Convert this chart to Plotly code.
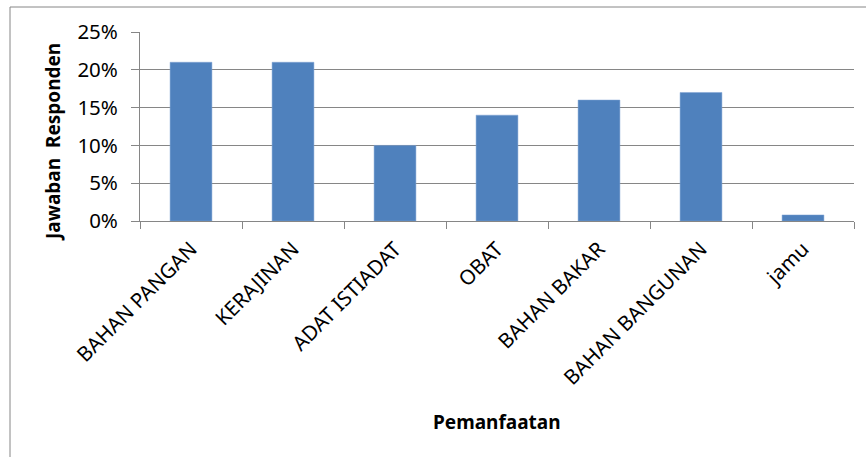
import plotly.graph_objects as go

categories = ["BAHAN PANGAN", "KERAJINAN", "ADAT ISTIADAT", "OBAT",
              "BAHAN BAKAR", "BAHAN BANGUNAN", "jamu"]
values = [0.21, 0.21, 0.10, 0.14, 0.16, 0.17, 0.008]
y_ticks = [0, 0.05, 0.10, 0.15, 0.20, 0.25]
y_labels = ["0%", "5%", "10%", "15%", "20%", "25%"]

FONT = "Noto Sans"
GRAY = "#868686"

fig = go.Figure(go.Bar(
    x=categories, y=values,
    marker=dict(color="#4F81BD", line=dict(color="#7EA3D3", width=0.5)),
))

W, H = 866, 457
L, R, T, B = 140, 12, 32, 236
pw, ph = W - L - R, H - T - B

def px(x):
    return (x - L) / pw

def py(y):
    return (H - B - y) / ph

fig.update_layout(
    width=W, height=H,
    margin=dict(l=L, r=R, t=T, b=B),
    paper_bgcolor="white", plot_bgcolor="white",
    bargap=0.59,
    showlegend=False,
    font=dict(family=FONT, size=19, color="#000000"),
    xaxis=dict(
        type="category",
        tickson="boundaries",
        ticks="outside", ticklen=7, tickcolor=GRAY,
        showline=True, linecolor=GRAY, linewidth=1,
        tickangle=-45,
        ticklabelstandoff=7,
        tickfont=dict(family=FONT, size=20.5),
        showgrid=False,
    ),
    yaxis=dict(
        range=[0, 0.25],
        tickvals=y_ticks, ticktext=y_labels,
        ticks="outside", ticklen=8, tickcolor=GRAY,
        showline=True, linecolor=GRAY, linewidth=1,
        showgrid=True, gridcolor=GRAY, gridwidth=1,
        ticklabelstandoff=9,
        tickfont=dict(family=FONT, size=20.5),
        zeroline=False,
    ),
    annotations=[
        dict(text="<b>Jawaban  Responden</b>", textangle=-90,
             x=px(53), y=py(142), xref="paper", yref="paper",
             showarrow=False, font=dict(family=FONT, size=19),
             xanchor="center", yanchor="middle"),
        dict(text="<b>Pemanfaatan</b>",
             x=px(497), y=py(422), xref="paper", yref="paper",
             showarrow=False, font=dict(family=FONT, size=19),
             xanchor="center", yanchor="middle"),
    ],
    shapes=[
        dict(type="line", xref="paper", yref="paper",
             x0=px(10), x1=px(10), y0=py(7), y1=py(460),
             line=dict(color=GRAY, width=1)),
        dict(type="line", xref="paper", yref="paper",
             x0=px(10), x1=px(870), y0=py(7), y1=py(7),
             line=dict(color=GRAY, width=1)),
    ],
)

fig.write_html("out.html")
